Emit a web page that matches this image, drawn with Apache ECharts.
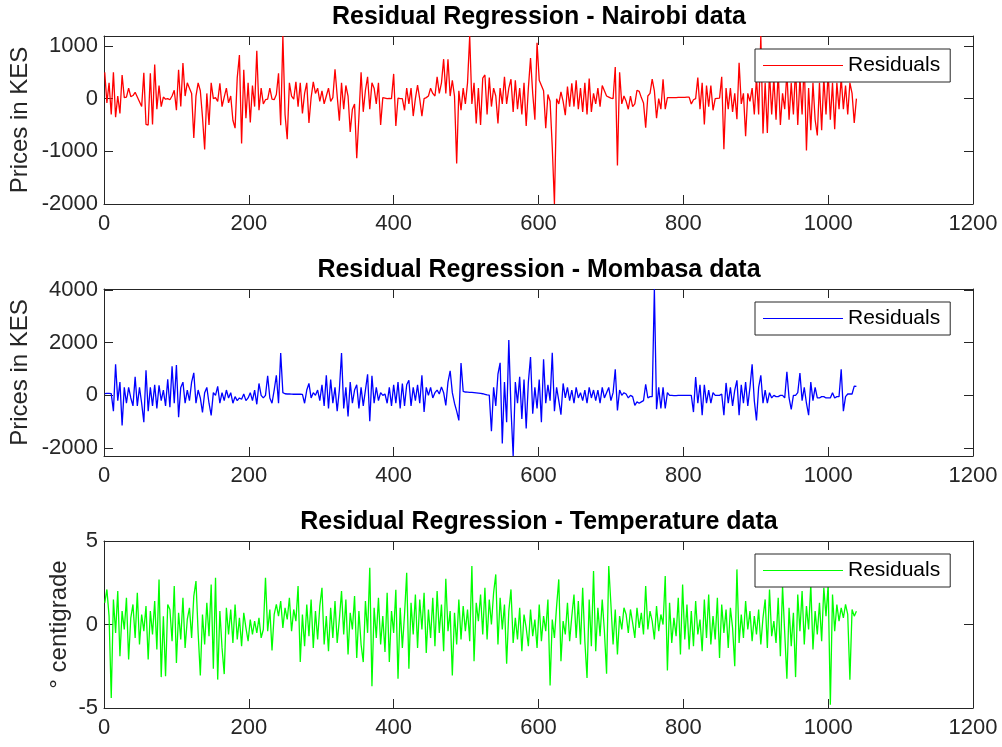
<!DOCTYPE html>
<html>
<head>
<meta charset="utf-8">
<title>Residual Regression</title>
<script src="https://cdn.jsdelivr.net/npm/echarts@6/dist/echarts.min.js"></script>
<style>
  html, body { margin: 0; padding: 0; background: #fff; }
  #chart { width: 1002px; height: 747px; }
</style>
</head>
<body>
<div id="chart"></div>
<script>
// observation index step between stored samples (1, 4, 7, ... 1039)
const sampleStep = 3

const xTicks = [0, 200, 400, 600, 800, 1000, 1200]
const nairobiTicks = [-2000, -1000, 0, 1000]
const mombasaTicks = [-2000, 0, 2000, 4000]
const temperatureTicks = [-5, 0, 5]

const nairobiResiduals = [
  500, -80, 300, -300, 500, -350, 50, -280, 450, 20,
  30, 200, 40, 60, 120, 30, -60, -150, 490, -490,
  -500, 480, -490, 650, -200, 250, -150, 30, -10, 0,
  -20, 50, 160, -220, 550, -150, 675, 50, 300, 200,
  100, -745, 50, 300, 150, -350, -965, 100, -500, 300,
  0, 20, -50, 290, -150, 30, 200, -80, 50, -410,
  -560, 400, 830, -850, 550, -370, 300, -450, 250, -150,
  910, -220, 200, -100, -20, -10, 200, -10, -20, 80,
  480, -505, 1190, -300, -770, 300, 50, -10, 320, -150,
  300, -280, 100, 300, -460, 20, 320, 100, 200, -50,
  150, -100, 50, 200, -50, 20, 560, 50, -420, 300,
  -200, 250, 50, -630, -200, -100, -1130, -350, 500, -250,
  160, 415, -200, 300, 200, -100, 300, -500, 20, 10,
  0, 5, 0, 470, -520, 10, 0, 0, -220, 200,
  -100, 200, -330, 0, 260, -10, -330, 0, 20, 50,
  200, 100, 50, 415, 100, 300, 750, 100, 750, 50,
  350, 50, -1230, 150, -220, 200, -100, 300, 1190, -100,
  300, -470, 200, -500, 390, 450, -300, 400, -150, 200,
  50, -470, 200, -100, 415, -100, 200, 370, -250, 350,
  -200, 200, -300, 300, -520, 200, 770, 100, -400, 1060,
  350, 250, 150, -560, 80, -50, -920, -2000, 0, -100,
  130, -50, -315, 230, -150, 290, -150, 350, -200, 200,
  -250, 300, -300, 380, -250, 100, -100, 200, -150, 250,
  150, 50, 30, 10, 0, 600, -1270, 500, -100, 50,
  -50, -200, 50, -150, -100, 160, 140, 20, -80, -550,
  50, 100, 370, 150, -370, 0, -200, 370, -200, 20,
  20, 20, 20, 20, 25, 25, 25, 25, 30, 30,
  -100, -20, 0, 400, -200, 300, -490, 250, -150, 250,
  -220, 0, 5, 10, 415, -960, 200, -200, 200, -250,
  100, -390, 680, -100, 100, -715, 100, -50, 200, -300,
  400, -300, 1190, -660, 300, -650, 500, -300, 400, -400,
  500, -500, 100, -200, 500, -400, 300, -300, 600, -500,
  400, -300, 700, -985, 200, -600, 300, -400, -700, 300,
  -600, 400, -300, 500, -400, 300, -580, 300, -200, 400,
  -200, 250, -300, 300, 100, -460, 0
]

const mombasaResiduals = [
  65, 70, 70, 65, -600, 1180, -200, 500, -1140, 300,
  -300, 300, -100, -400, 700, -400, 300, -300, -1020, 950,
  -600, 300, -400, 400, -500, 380, -200, 200, -400, 610,
  -450, 1100, -300, 1150, -830, 300, 500, -300, 200, -200,
  500, 850, -300, 200, -100, -650, 100, 300, -300, -760,
  100, 0, 340, -300, 100, -200, 200, -100, 100, -300,
  -50, -200, -100, -150, 50, -200, -100, 100, -200, 200,
  -340, 450, 0, -100, 0, 740, -100, -300, 200, 760,
  -300, 1600, 100, 60, 50, 50, 45, 40, 40, 40,
  40, 35, -300, 200, 450, -100, 100, 0, 200, -200,
  400, -400, 760, -500, 600, -300, 300, -600, 200, 1600,
  -500, 300, -800, 500, -300, 200, 400, -500, 300, -400,
  200, 800, -980, 740, -300, 300, -200, 100, 0, 50,
  -300, 300, -400, 400, -300, 500, -500, 450, -400, 400,
  570, -400, 300, -200, 400, -300, 760, -630, 300, 0,
  300, -100, 100, 200, 50, 320, 100, -380, 500, 930,
  100, -300, -600, -950, 1220, 150, 125, 120, 115, 110,
  100, 90, 80, 70, 60, 40, 20, 10, -1360, 300,
  -400, 800, 1230, -1830, 500, -1020, 2100, -500, -2300, 500,
  -300, 700, -900, 600, -1260, 500, 1450, -700, 300, -500,
  600, -1020, 1370, -300, 400, -200, 1610, -600, 300, -200,
  -730, 450, -100, 300, -200, 200, -300, 300, -100, 100,
  -200, 200, -300, 300, -100, 200, -200, 200, -300, 300,
  -100, 100, 300, -200, 100, 990, -570, 200, 0, 100,
  50, -100, 0, -50, -380, -250, -300, -250, -200, 420,
  -100, -50, -50, 4030, -530, 300, -500, 300, -500, 100,
  0, 0, -10, -10, 0, 0, 0, 0, 0, 0,
  0, -635, 690, -300, 400, -750, 400, -300, 200, -300,
  100, 0, 0, 0, 50, -750, 470, -300, 300, -400,
  200, 570, -750, 400, -300, 500, -400, 300, 1180, -200,
  -950, 300, 760, -300, 200, -300, 100, -100, 0, -50,
  -50, 0, 0, -100, 890, -100, -530, 0, 0, 100,
  840, -200, 300, -300, -750, 500, -200, 300, -100, -100,
  -50, -50, -100, -100, -100, 100, -100, -50, -50, 990,
  -600, -50, 50, 50, 50, 350, 340
]

const temperatureResiduals = [
  1.3, 2.1, 0.5, -4.4, 1.5, -0.5, 2.0, -1.9, 0.8, -0.3,
  1.6, -2.1, 0.4, 1.2, -0.8, 1.9, -1.2, 0.6, -0.4, 1.1,
  -2.1, 0.8, -0.6, 1.4, -1.5, 2.7, -3.15, 0.5, -3.1, 1.2,
  0.9, -1.0, 2.3, -2.3, 0.7, -0.9, 1.6, -1.4, 0.3, 1.0,
  -0.8, 1.7, 2.6, -0.5, -3.05, 0.6, -1.2, 1.3, -0.7, 2.4,
  -2.65, 2.8, -3.3, 0.8, -1.4, -2.97, 1.0, -0.6, 0.9, -1.1,
  1.2, -0.9, 0.4, -1.3, 0.7, -0.2, -1.0, 0.3, -0.6, 0.2,
  -0.5, 0.4, -0.8, -0.3, 2.8, -0.4, 0.9, -1.55, 0.6, 1.2,
  0.5, 1.4, -0.2, 1.0, 0.3, 1.6, -0.4, 0.9, 0.2, 2.3,
  -2.25, 0.6, -1.3, 1.2, -0.7, 1.5, -1.4, 0.8, -0.9, 1.1,
  2.2, -1.2, 0.5, -1.6, 1.0, -0.8, 1.4, -1.1, 0.3, 2.0,
  -0.6, 1.5, -1.8, 0.7, -0.3, 1.7, -2.0, 0.8, -1.2, -2.25,
  1.4, -0.5, 3.4, -3.7, 1.0, -0.8, 1.6, -1.2, 0.5, -1.65,
  1.9, -2.25, 0.8, -0.5, 2.08, -3.25, 1.0, -1.4, 0.6, 3.1,
  -2.65, 1.3, -0.6, 1.8, -1.4, 1.5, -0.3, 1.9, -1.7, 0.9,
  -0.8, 1.6, -1.3, 2.0, -0.5, 1.2, -1.6, 2.74, -0.4, 0.8,
  -3.05, 0.7, -1.2, 1.5, -0.9, 1.1, -0.4, 0.9, -1.0, 3.5,
  -2.2, 1.3, 0.2, 1.8, -0.6, 2.2, -0.9, 1.5, 0.0, 1.9,
  3.0, -1.2, 1.6, -0.3, 1.2, -2.35, 0.8, 2.1, -1.1, 0.4,
  -0.9, 1.0, -1.6, 0.6, -0.2, -1.3, 0.9, -0.7, 0.3, -1.4,
  1.2, -1.0, 0.5, -0.4, 1.5, -3.65, 0.3, -0.8, 1.1, 2.7,
  -2.2, 0.2, -0.6, 1.3, -1.0, 0.5, 1.8, -0.8, 1.4, -1.2,
  2.2, -1.0, -3.2, 1.5, -1.3, 3.2, -1.6, 1.0, -0.7, 1.5,
  -0.4, -2.95, 3.5, 1.2, -1.2, 0.9, -1.8, 0.5, -0.3, 1.0,
  0.6, -0.5, 0.9, 0.1, -0.8, 1.0, -0.2, 0.7, -0.6, 2.3,
  -0.3, 0.8, 0.2, -0.9, 1.1, -0.4, 0.6, 0.0, 2.9, -2.75,
  1.3, -1.1, 0.4, -0.7, 1.6, -1.8, 2.4, -0.9, 1.2, -1.5,
  0.8, -1.3, 1.4, -0.6, 0.3, -1.6, 1.5, -0.8, 1.8, -1.2,
  0.5, -0.9, 1.6, -2.0, 1.2, -0.5, 0.9, -1.4, 1.0, -0.2,
  -2.5, 3.3, -1.1, 0.6, -0.8, 1.4, -0.3, 0.8, -1.0, 0.5,
  -0.6, 0.9, -1.2, 0.4, 1.5, -1.4, 2.1, -0.7, 0.2, -1.1,
  1.6, -1.9, 2.3, -0.5, -3.25, 1.0, -1.3, 0.7, -3.15, 1.8,
  -0.4, 2.0, -1.2, 1.1, -0.3, 2.4, -1.5, 0.8, -0.6, 1.3,
  -1.0, 2.2, 0.5, 2.4, -4.8, 1.8, -0.4, 1.2, 0.2, 1.0,
  0.4, 1.2, 0.6, -3.3, 0.9, 0.5, 0.8
]

const FONT = '"Liberation Sans", Arial, Helvetica, sans-serif'
const AXIS_COLOR = '#262626'

const panels = [
  { name: 'Nairobi', title: 'Residual Regression - Nairobi data', yName: 'Prices in KES', values: nairobiResiduals, ticks: nairobiTicks, min: -2000, max: 1190, color: '#ff0000', top: 36, height: 168, titleTop: 5, legendTop: 49, nameGap: 72 },
  { name: 'Mombasa', title: 'Residual Regression - Mombasa data', yName: 'Prices in KES', values: mombasaResiduals, ticks: mombasaTicks, min: -2300, max: 4030, color: '#0000ff', top: 289, height: 167, titleTop: 258, legendTop: 302, nameGap: 72 },
  { name: 'Temperature', title: 'Residual Regression - Temperature data', yName: '° centigrade', values: temperatureResiduals, ticks: temperatureTicks, min: -5, max: 5, color: '#00ff00', top: 541, height: 167, titleTop: 510, legendTop: 554, nameGap: 33 }
]

const plain = v => String(v)

const chart = echarts.init(document.getElementById('chart'), null, { renderer: 'canvas' })

const option = {
  animation: false,
  backgroundColor: '#ffffff',
  textStyle: { fontFamily: FONT },
  title: [],
  legend: [],
  grid: [],
  xAxis: [],
  yAxis: [],
  series: []
}

panels.forEach((p, k) => {
  option.title.push({
    text: p.title,
    left: 539,
    top: p.titleTop,
    textAlign: 'center',
    padding: 0,
    textStyle: { fontFamily: FONT, fontSize: 25, fontWeight: 'bold', color: '#000' }
  })
  option.grid.push({ left: 104, top: p.top, width: 869, height: p.height, outerBoundsMode: 'none' })

  const tickStyle = { show: true, inside: true, length: 9, lineStyle: { color: AXIS_COLOR, width: 1 } }
  const lineStyle = { show: true, onZero: false, lineStyle: { color: AXIS_COLOR, width: 1 } }

  option.xAxis.push({
    type: 'value', gridIndex: k, position: 'bottom', min: 0, max: 1200,
    axisLine: lineStyle,
    axisTick: Object.assign({ customValues: xTicks }, tickStyle),
    splitLine: { show: false },
    axisLabel: { color: AXIS_COLOR, fontSize: 22, fontFamily: FONT, margin: 9, customValues: xTicks, formatter: plain }
  })
  option.xAxis.push({
    type: 'value', gridIndex: k, position: 'top', min: 0, max: 1200,
    axisLine: lineStyle,
    axisTick: Object.assign({ customValues: xTicks }, tickStyle),
    splitLine: { show: false },
    axisLabel: { show: false }
  })
  option.yAxis.push({
    type: 'value', gridIndex: k, position: 'left', min: p.min, max: p.max,
    name: p.yName, nameLocation: 'middle', nameGap: p.nameGap, nameMoveOverlap: false,
    nameTextStyle: { color: AXIS_COLOR, fontSize: 24, fontFamily: FONT },
    axisLine: lineStyle,
    axisTick: Object.assign({ customValues: p.ticks }, tickStyle),
    splitLine: { show: false },
    axisLabel: { color: AXIS_COLOR, fontSize: 22, fontFamily: FONT, margin: 6, customValues: p.ticks, formatter: plain }
  })
  option.yAxis.push({
    type: 'value', gridIndex: k, position: 'right', min: p.min, max: p.max,
    axisLine: lineStyle,
    axisTick: Object.assign({ customValues: p.ticks }, tickStyle),
    splitLine: { show: false },
    axisLabel: { show: false }
  })

  option.series.push({
    name: p.name,
    type: 'line',
    xAxisIndex: 2 * k,
    yAxisIndex: 2 * k,
    data: p.values.map((v, i) => [1 + i * sampleStep, v]),
    showSymbol: false,
    symbol: 'none',
    lineStyle: { color: p.color, width: 1.3 },
    itemStyle: { color: p.color },
    clip: true
  })

  option.legend.push({
    data: [p.name],
    left: 755,
    top: p.legendTop,
    orient: 'horizontal',
    selectedMode: false,
    icon: 'rect',
    itemWidth: 80,
    itemHeight: 1,
    padding: [6, 10, 6, 8],
    borderColor: AXIS_COLOR,
    borderWidth: 1,
    borderRadius: 0,
    backgroundColor: '#ffffff',
    formatter: () => 'Residuals',
    textStyle: { color: '#000', fontSize: 21, fontFamily: FONT }
  })
})

chart.setOption(option)
window.addEventListener('resize', () => chart.resize())
</script>
</body>
</html>
